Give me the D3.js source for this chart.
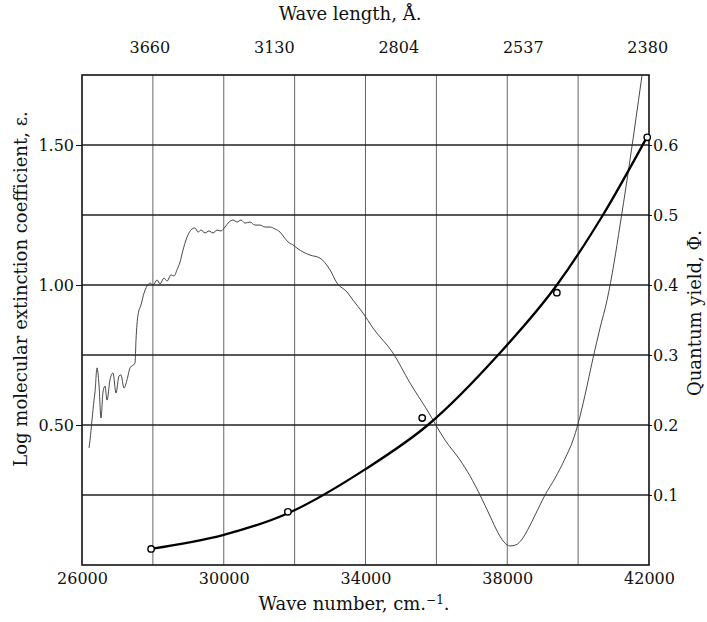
<!DOCTYPE html>
<html>
<head>
<meta charset="utf-8">
<script src="https://cdn.jsdelivr.net/npm/d3@7"></script>
<style>
  body { margin: 0; background: #fff; }
  text { font-family: "DejaVu Serif", serif; fill: #111; }
  .axis path { display: none; }
  .axis line { stroke: #111; }
</style>
</head>
<body>
<div id="chart"></div>
<script>
// wave number (cm-1) ticks on the bottom, wave length labels on top
var nuTicks = [26000, 30000, 34000, 38000, 42000];
var nuGrid = [28000, 30000, 32000, 34000, 36000, 38000, 40000];
var waveLengths = ["3660", "3130", "2804", "2537", "2380"];
var logEpsTicks = [0.5, 1.0, 1.5];
var phiTicks = [0.1, 0.2, 0.3, 0.4, 0.5, 0.6];

// quantum yield, measured points
var pointNu = [27950, 31810, 35600, 39400, 41950];
var pointPhi = [0.023, 0.076, 0.21, 0.389, 0.611];

// quantum yield, drawn curve
var curveNu = [27950, 30000, 31813, 34000, 35760, 37740, 39400, 40700, 41950];
var curvePhi = [0.023, 0.043, 0.074, 0.137, 0.2, 0.3, 0.4, 0.5, 0.612];

// absorption spectrum, log molecular extinction coefficient
var absNu = [26198, 26226, 26282, 26339, 26367, 26423, 26480, 26536, 26593, 26649,
  26706, 26790, 26875, 26960, 27044, 27100, 27185, 27270, 27355, 27496,
  27524, 27580, 27665, 27750, 27834, 27919, 28004, 28117, 28201, 28314,
  28399, 28512, 28596, 28681, 28766, 28850, 28935, 29020, 29104, 29189,
  29274, 29358, 29471, 29584, 29697, 29810, 29923, 30036, 30149, 30262,
  30374, 30487, 30600, 30741, 30882, 31023, 31164, 31305, 31447, 31588,
  31700, 31813, 31954, 32095, 32236, 32434, 32716, 32999, 33196, 33478,
  33647, 33930, 34212, 34777, 35256, 35736, 36244, 36667, 36949, 37232,
  37514, 37740, 37909, 38078, 38248, 38417, 38586, 38812, 39066, 39348,
  39631, 39856, 39997, 40195, 40421, 40618, 40816, 41014, 41183, 41380,
  41606, 41804];
var absLogEps = [0.418, 0.446, 0.518, 0.589, 0.618, 0.704, 0.643, 0.525, 0.618, 0.639,
  0.589, 0.661, 0.686, 0.614, 0.675, 0.679, 0.632, 0.661, 0.704, 0.721,
  0.804, 0.893, 0.929, 0.971, 0.996, 1.007, 1.000, 1.018, 1.004, 1.025,
  1.014, 1.036, 1.032, 1.054, 1.082, 1.125, 1.161, 1.186, 1.200, 1.204,
  1.189, 1.196, 1.186, 1.193, 1.186, 1.196, 1.193, 1.207, 1.225, 1.232,
  1.225, 1.232, 1.221, 1.225, 1.214, 1.214, 1.207, 1.207, 1.200, 1.189,
  1.171, 1.154, 1.143, 1.129, 1.118, 1.107, 1.096, 1.054, 1.007, 0.975,
  0.946, 0.900, 0.846, 0.757, 0.650, 0.554, 0.446, 0.375, 0.318, 0.250,
  0.175, 0.115, 0.082, 0.068, 0.072, 0.092, 0.128, 0.185, 0.250, 0.310,
  0.380, 0.446, 0.504, 0.607, 0.739, 0.846, 0.946, 1.079, 1.214, 1.375,
  1.571, 1.750];

var W = 707, H = 622;
var mLeft = 82, mRight = 649, mTop = 75, mBottom = 565;

var svg = d3.select("#chart").append("svg")
  .attr("width", W).attr("height", H);

var x = d3.scaleLinear().domain([26000, 42000]).range([mLeft, mRight]);
var yL = d3.scaleLinear().domain([0, 1.75]).range([mBottom, mTop]);
var yR = d3.scaleLinear().domain([0, 0.7]).range([mBottom, mTop]);
var xTop = d3.scalePoint().domain(waveLengths).range([x(27900), x(41950)]);

// grid
var grid = svg.append("g");
grid.selectAll("line.v").data(nuGrid).enter().append("line")
  .attr("class", "v")
  .attr("x1", function(d){return x(d);}).attr("x2", function(d){return x(d);})
  .attr("y1", mTop).attr("y2", mBottom)
  .attr("stroke-width", 0.9).attr("stroke", "#555");
grid.selectAll("line.h").data(phiTicks).enter().append("line")
  .attr("class", "h")
  .attr("x1", mLeft).attr("x2", mRight)
  .attr("y1", function(d){return yR(d);}).attr("y2", function(d){return yR(d);})
  .attr("stroke-width", 1.3).attr("stroke", "#222");

// frame
svg.append("rect")
  .attr("x", mLeft).attr("y", mTop)
  .attr("width", mRight - mLeft).attr("height", mBottom - mTop)
  .attr("fill", "none").attr("stroke", "#111").attr("stroke-width", 1.6);

// absorption curve (thin)
var absData = absNu.map(function(d, i){ return [d, absLogEps[i]]; });
svg.append("path")
  .datum(absData)
  .attr("fill", "none").attr("stroke", "#333").attr("stroke-width", 0.9)
  .attr("d", d3.line()
    .x(function(d){return x(d[0]);})
    .y(function(d){return yL(d[1]);})
    .curve(d3.curveMonotoneX));

// quantum yield curve (heavy)
var qData = curveNu.map(function(d, i){ return [d, curvePhi[i]]; });
svg.append("path")
  .datum(qData)
  .attr("fill", "none").attr("stroke", "#000").attr("stroke-width", 2.3)
  .attr("d", d3.line()
    .x(function(d){return x(d[0]);})
    .y(function(d){return yR(d[1]);})
    .curve(d3.curveMonotoneX));

svg.append("g").selectAll("circle")
  .data(pointNu).enter().append("circle")
  .attr("cx", function(d){return x(d);})
  .attr("cy", function(d, i){return yR(pointPhi[i]);})
  .attr("r", 3.2)
  .attr("fill", "#fff").attr("stroke", "#000").attr("stroke-width", 1.4);

// axes
var fs = "16px";
var gB = svg.append("g").attr("class", "axis")
  .attr("transform", "translate(0," + mBottom + ")")
  .call(d3.axisBottom(x).tickValues(nuTicks).tickSize(0).tickPadding(8).tickFormat(d3.format("d")));
gB.selectAll("text").style("font-size", fs).style("font-family", "DejaVu Serif");

var gT = svg.append("g").attr("class", "axis")
  .attr("transform", "translate(0," + mTop + ")")
  .call(d3.axisTop(xTop).tickSize(0).tickPadding(22));
gT.selectAll("text").style("font-size", fs).style("font-family", "DejaVu Serif");

var gL = svg.append("g").attr("class", "axis")
  .attr("transform", "translate(" + mLeft + ",0)")
  .call(d3.axisLeft(yL).tickValues(logEpsTicks).tickSize(6).tickPadding(2).tickFormat(d3.format(".2f")));
gL.selectAll("text").style("font-size", fs).style("font-family", "DejaVu Serif");

var gR = svg.append("g").attr("class", "axis")
  .attr("transform", "translate(" + mRight + ",0)")
  .call(d3.axisRight(yR).tickValues(phiTicks).tickSize(3).tickPadding(1).tickFormat(d3.format(".1f")));
gR.selectAll("text").style("font-size", fs).style("font-family", "DejaVu Serif");

// axis titles
var tfs = "18px";
svg.append("text").attr("x", 350).attr("y", 20)
  .attr("text-anchor", "middle").style("font-size", tfs)
  .text("Wave length, Å.");

var bt = svg.append("text").attr("x", 354).attr("y", 610)
  .attr("text-anchor", "middle").style("font-size", tfs);
bt.append("tspan").text("Wave number, cm.");
bt.append("tspan").attr("dy", -6).style("font-size", "12px").text("−1");
bt.append("tspan").attr("dy", 6).text(".");

svg.append("text")
  .attr("transform", "translate(27,289) rotate(-90)")
  .attr("text-anchor", "middle").style("font-size", tfs)
  .text("Log molecular extinction coefficient, ε.");

svg.append("text")
  .attr("transform", "translate(701,313) rotate(-90)")
  .attr("text-anchor", "middle").style("font-size", tfs)
  .text("Quantum yield, Φ.");
</script>
</body>
</html>
